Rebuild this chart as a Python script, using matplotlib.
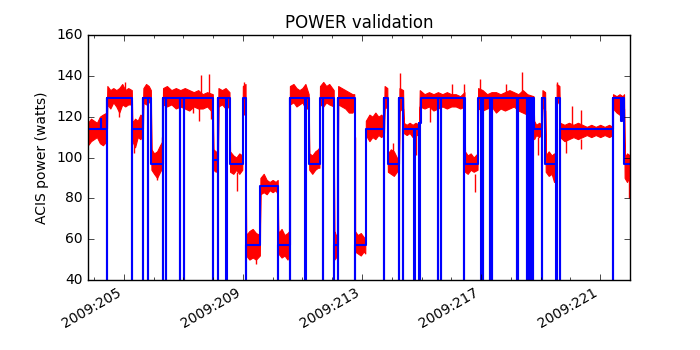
import numpy as np
import matplotlib
matplotlib.use("Agg")
import matplotlib.pyplot as plt
from matplotlib.ticker import MultipleLocator, FixedLocator, FuncFormatter

plt.style.use("classic")
plt.rcParams["font.family"] = ["DejaVu Sans"]
plt.rcParams["font.size"] = 10

# ---- Model power: piecewise-constant levels (start day-of-year 2009, watts)
model_start = [203.80, 204.22, 204.25, 204.44, 205.28, 205.65, 205.92, 206.31,
               208.00, 208.17, 208.56, 208.99, 209.10, 209.58, 210.18, 210.57,
               211.22, 211.58, 212.06, 212.19, 212.75, 213.12, 213.75, 213.86,
               214.25, 214.39, 214.93, 214.97, 216.45, 216.89, 218.77, 219.05,
               219.16, 219.53, 219.64, 221.42, 221.70, 221.73, 221.81]
model_level = [114, 119, 114, 129, 114, 129, 97, 129,
               99, 129, 97, 129, 57, 86, 57, 129,
               97, 129, 57, 129, 57, 114, 129, 97,
               129, 114, 117, 129, 97, 129, 114, 129,
               97, 129, 114, 129, 118, 129, 97]
model_end = 222.0

# Brief model dropouts to 0 W
dropout_t = [204.44, 205.28, 205.65, 205.82, 206.31, 206.41, 206.90, 207.01,
             208.00, 208.17, 208.45, 209.10, 210.18, 210.57, 211.10, 211.69,
             212.06, 212.19, 212.75, 213.75, 214.25, 214.39, 214.76, 214.93,
             215.54, 215.64, 216.42, 217.01, 217.05, 217.29, 217.37, 218.19,
             218.23, 218.53, 218.57, 218.60, 218.63, 218.66, 218.69, 218.72,
             218.75, 219.05, 219.53, 219.64, 221.42]
dropout_width = 0.004

# ---- Telemetry: envelope of the measured power (day, high, low)
tlm_t = [203.80, 203.90, 204.00, 204.10, 204.20, 204.30, 204.43,
         204.45, 204.55, 204.65, 204.75, 204.85, 204.95, 205.05, 205.15, 205.27,
         205.29, 205.38, 205.47, 205.56, 205.64,
         205.66, 205.75, 205.84, 205.91,
         205.93, 206.02, 206.12, 206.22, 206.30,
         206.32, 206.45, 206.60, 206.75, 206.90, 207.05, 207.20, 207.35, 207.50, 207.65, 207.80, 207.99,
         208.01, 208.09, 208.16,
         208.18, 208.30, 208.42, 208.55,
         208.57, 208.68, 208.78, 208.88, 208.98,
         209.00, 209.09,
         209.11, 209.22, 209.33, 209.44, 209.57,
         209.59, 209.70, 209.80, 209.90, 210.00, 210.10, 210.17,
         210.19, 210.30, 210.40, 210.50, 210.56,
         210.58, 210.70, 210.80, 210.90, 211.00, 211.10, 211.21,
         211.23, 211.33, 211.43, 211.52, 211.57,
         211.59, 211.70, 211.80, 211.90, 212.05,
         212.07, 212.18,
         212.20, 212.32, 212.44, 212.56, 212.68, 212.74,
         212.76, 212.86, 212.96, 213.06, 213.11,
         213.13, 213.25, 213.35, 213.45, 213.55, 213.65, 213.74,
         213.76, 213.85,
         213.87, 213.97, 214.07, 214.17, 214.24,
         214.26, 214.38,
         214.40, 214.50, 214.60, 214.70, 214.80, 214.92,
         214.94, 215.10, 215.25, 215.40, 215.55, 215.70, 215.85, 216.00, 216.15, 216.30, 216.44,
         216.46, 216.55, 216.65, 216.75, 216.88,
         216.90, 217.05, 217.20, 217.35, 217.50, 217.65, 217.80, 217.95, 218.10, 218.25, 218.40, 218.55, 218.76,
         218.78, 218.85, 218.95, 219.04,
         219.06, 219.15,
         219.17, 219.27, 219.37, 219.45, 219.52,
         219.54, 219.63,
         219.65, 219.80, 219.95, 220.10, 220.25, 220.40, 220.55, 220.70, 220.85, 221.00, 221.15, 221.30, 221.41,
         221.43, 221.55, 221.65, 221.75, 221.80,
         221.82, 221.90, 222.00]
tlm_hi = [117, 119, 118, 117, 120, 121, 122,
          135, 133, 134, 133, 134, 136, 133, 134, 133,
          117, 119, 118, 121, 120,
          134, 136, 135, 133,
          104, 102, 103, 106, 108,
          134, 135, 133, 134, 133, 134, 133, 132, 133, 131, 132, 131,
          104, 103, 102,
          134, 133, 134, 132,
          103, 101, 100, 102, 101,
          135, 136,
          62, 64, 65, 63, 62,
          90, 92, 89, 88, 89, 88, 89,
          63, 65, 62, 63, 64,
          135, 136, 134, 133, 134, 136, 131,
          102, 101, 103, 104, 105,
          135, 137, 135, 136, 133,
          64, 60,
          135, 134, 133, 132, 131, 131,
          64, 62, 63, 61, 60,
          118, 121, 120, 122, 120, 121, 119,
          135, 134,
          102, 104, 103, 100, 99,
          134, 133,
          117, 116, 117, 116, 117, 116,
          133, 131, 132, 131, 132, 131, 132, 131, 131, 130, 132,
          103, 101, 102, 100, 102,
          134, 133, 131, 132, 132, 131, 132, 133, 132, 131, 133, 131, 130,
          118, 116, 117, 116,
          133, 132,
          101, 103, 101, 102, 100,
          136, 135,
          117, 116, 117, 116, 117, 116, 115, 116, 115, 116, 115, 116, 115,
          131, 130, 131, 130, 131,
          100, 102, 101]
tlm_lo = [106, 108, 109, 110, 107, 106, 108,
          126, 124, 127, 125, 122, 126, 125, 126, 126,
          108, 105, 110, 109, 111,
          127, 126, 127, 128,
          94, 92, 90, 93, 95,
          126, 125, 126, 124, 125, 124, 123, 125, 124, 124, 125, 122,
          94, 93, 95,
          125, 126, 124, 125,
          93, 92, 94, 92, 94,
          123, 124,
          52, 50, 51, 50, 52,
          82, 83, 82, 84, 83, 84, 82,
          53, 51, 52, 50, 53,
          126, 127, 125, 126, 127, 124, 124,
          94, 92, 94, 95, 95,
          126, 125, 127, 126, 125,
          50, 52,
          126, 125, 124, 122, 122, 124,
          54, 53, 52, 54, 53,
          111, 108, 110, 109, 111, 110, 112,
          125, 124,
          93, 92, 91, 93, 94,
          123, 124,
          112, 111, 112, 110, 111, 111,
          125, 124, 125, 123, 124, 125, 124, 125, 125, 124, 125,
          93, 92, 94, 93, 94,
          124, 123, 124, 125, 122, 124, 123, 124, 125, 123, 122, 121, 122,
          109, 111, 110, 112,
          125, 123,
          93, 91, 92, 88, 91,
          128, 126,
          110, 108, 109, 110, 109, 110, 111, 110, 111, 110, 111, 110, 111,
          124, 122, 121, 118, 124,
          90, 88, 91]

# Isolated telemetry excursions (day, low, high)
spike_t = [204.83, 205.03, 205.36, 206.12, 206.29, 207.34, 207.53, 207.61,
           207.87, 207.93, 208.82, 209.05, 209.44, 212.77, 214.03, 214.26,
           214.82, 215.29, 216.01, 216.42, 216.81, 216.95, 217.29, 217.85,
           218.38, 218.64, 218.91, 219.55, 219.85, 220.05, 220.35, 220.37,
           221.97]
spike_lo = [120, 126, 102, 89, 95, 122, 118, 125,
            125, 119, 83.5, 121, 48, 57, 98, 123,
            101, 117.5, 130, 130, 83, 130, 108, 130,
            130, 54, 101, 135, 102, 116, 104, 116,
            80]
spike_hi = [127, 137, 110, 95, 110, 127, 125, 140.5,
            141, 126, 93, 137, 52, 110, 107, 141.5,
            111, 125, 136, 136, 92, 138.5, 124, 136,
            142, 114, 110, 137, 109, 125, 109, 123.5,
            90]

x_ticks = [205, 209, 213, 217, 221]


def level_at(t):
    idx = np.searchsorted(model_start, t, side="right") - 1
    return model_level[idx]


# Assemble the model step series, inserting the dropouts
events = [(s, 0, lv) for s, lv in zip(model_start, model_level)]
for d in dropout_t:
    events.append((d, 1, 0))
    events.append((d + dropout_width, 2, level_at(d + dropout_width)))
events.sort(key=lambda e: (e[0], e[1]))
step_t = [e[0] for e in events] + [model_end]
step_p = [e[2] for e in events] + [level_at(model_end)]

fig = plt.figure(figsize=(7, 3.5), dpi=100, facecolor="white")
ax = fig.add_axes([88 / 700, 70 / 350, 542 / 700, 245 / 350])
ax.set_facecolor("white")

ax.fill_between(tlm_t, tlm_lo, tlm_hi, color="r", edgecolor="r", lw=0.8, zorder=1)
ax.vlines(spike_t, spike_lo, spike_hi, color="r", lw=1.0, zorder=1)
ax.step(step_t, step_p, where="post", color="b", lw=1.5, zorder=2)

ax.set_xlim(203.8, 222.0)
ax.set_ylim(40, 160)
ax.xaxis.set_major_locator(FixedLocator(x_ticks))
ax.xaxis.set_minor_locator(MultipleLocator(1))
ax.xaxis.set_major_formatter(FuncFormatter(lambda v, p: "2009:%d" % round(v)))
ax.yaxis.set_major_locator(MultipleLocator(20))
for lab in ax.get_xticklabels():
    lab.set_rotation(30)
    lab.set_ha("right")

ax.set_title("POWER validation", fontsize=12)
ax.set_ylabel("ACIS power (watts)", fontsize=10)

fig.savefig("out.png", dpi=100, facecolor="white")
